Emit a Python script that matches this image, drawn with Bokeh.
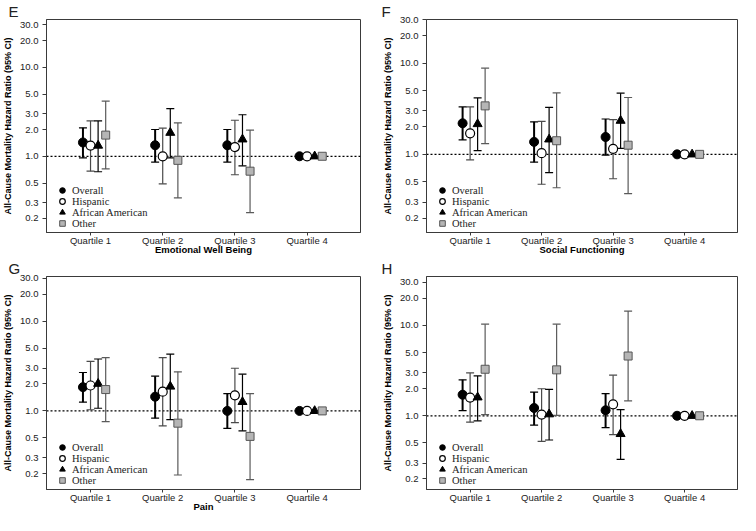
from bokeh.plotting import figure
from bokeh.models import (ColumnDataSource, Whisker, TeeHead, Span, Legend, LegendItem,
                          FixedTicker, PrintfTickFormatter, Range1d)
from bokeh.layouts import gridplot
from bokeh.embed import file_html
from bokeh.resources import INLINE

quartiles = ["Quartile 1", "Quartile 2", "Quartile 3", "Quartile 4"]
series = ["Overall", "Hispanic", "African American", "Other"]
y_ticks = [0.2, 0.3, 0.5, 1.0, 2.0, 3.0, 5.0, 10.0, 20.0, 30.0]

# Panel E: Emotional Well Being (rows: Overall, Hispanic, African American, Other)
emo_hr = [[1.43, 1.33, 1.33, 1.0], [1.32, 1.00, 1.27, 1.0], [1.32, 1.84, 1.55, 1.0], [1.73, 0.90, 0.68, 1.0]]
emo_lo = [[0.96, 0.86, 0.86, None], [0.68, 0.49, 0.62, None], [0.67, 0.96, 0.78, None], [0.72, 0.34, 0.233, None]]
emo_hi = [[2.09, 2.00, 2.00, None], [2.50, 2.07, 2.54, None], [2.50, 3.44, 2.93, None], [4.18, 2.37, 1.97, None]]

# Panel F: Social Functioning
soc_hr = [[2.19, 1.37, 1.55, 1.0], [1.70, 1.03, 1.15, 1.0], [2.15, 1.46, 2.34, 1.0], [3.40, 1.41, 1.26, 1.0]]
soc_lo = [[1.44, 0.82, 0.98, None], [0.87, 0.47, 0.54, None], [1.10, 0.63, 1.16, None], [1.31, 0.43, 0.37, None]]
soc_hi = [[3.31, 2.27, 2.44, None], [3.31, 2.30, 2.40, None], [4.16, 3.28, 4.68, None], [8.81, 4.72, 4.20, None]]

# Panel G: Pain
pain_hr = [[1.84, 1.44, 1.00, 1.0], [1.92, 1.64, 1.49, 1.0], [2.01, 1.87, 1.26, 1.0], [1.73, 0.73, 0.52, 1.0]]
pain_lo = [[1.25, 0.83, 0.64, None], [1.03, 0.68, 0.74, None], [1.07, 0.80, 0.60, None], [0.76, 0.193, 0.171, None]]
pain_hi = [[2.68, 2.44, 1.56, None], [3.57, 3.92, 2.99, None], [3.79, 4.30, 2.57, None], [3.92, 2.73, 1.56, None]]

# Panel H
h_hr = [[1.71, 1.22, 1.15, 1.0], [1.59, 1.03, 1.34, 1.0], [1.60, 1.04, 0.63, 1.0], [3.27, 3.22, 4.58, 1.0]]
h_lo = [[1.14, 0.79, 0.74, None], [0.85, 0.52, 0.62, None], [0.88, 0.54, 0.33, None], [1.03, 1.01, 1.46, None]]
h_hi = [[2.50, 1.83, 1.76, None], [2.98, 1.99, 2.81, None], [2.76, 1.96, 1.17, None], [10.3, 10.3, 14.4, None]]

FONT = "Liberation Sans"
AX = "#3a3a3a"
offsets = [-0.105, 0.0, 0.105, 0.21]
styles = [
    dict(marker="circle", size=9, fill_color="black", line_color="black", line_width=1),
    dict(marker="circle", size=9, fill_color="white", line_color="black", line_width=1.2),
    dict(marker="triangle", size=9, fill_color="black", line_color="black", line_width=1),
    dict(marker="square", size=8, fill_color="#b5b5b5", line_color="#555555", line_width=1),
]
bar_styles = [("black", 2.0), ("#4a4a4a", 1.2), ("black", 1.2), ("#5a5a5a", 1.2)]


def panel(letter, hr, lo, hi, xlabel, yr, w, h, borders, letter_off):
    bl, br, bt, bb = borders
    p = figure(width=w, height=h, y_axis_type="log",
               x_range=Range1d(0.39, 4.74), y_range=Range1d(*yr),
               output_backend="svg", toolbar_location=None,
               min_border_left=bl, min_border_right=br, min_border_top=bt, min_border_bottom=bb)
    p.xgrid.visible = False
    p.ygrid.visible = False
    p.outline_line_color = AX
    p.outline_line_width = 1

    p.title.text = letter
    p.title.align = "left"
    p.title.offset = letter_off
    p.title.text_font = FONT
    p.title.text_font_size = "15px"
    p.title.text_font_style = "normal"
    p.title.text_color = "#222222"
    p.title.standoff = 0

    p.add_layout(Span(location=1.0, dimension="width", line_color="black",
                      line_dash="2 2", line_width=1.2, level="underlay"))

    for k in range(4):
        xs = [i + 1 + offsets[k] for i in range(4)]
        ys = hr[k]
        wx = [xs[i] for i in range(4) if lo[k][i] is not None]
        wl = [lo[k][i] for i in range(4) if lo[k][i] is not None]
        wh = [hi[k][i] for i in range(4) if hi[k][i] is not None]
        wsrc = ColumnDataSource(dict(x=wx, lo=wl, hi=wh))
        col, lw = bar_styles[k]
        wk = Whisker(source=wsrc, base="x", lower="lo", upper="hi", dimension="height",
                     line_color=col, line_width=lw, level="underlay",
                     upper_head=TeeHead(size=8, line_color=col, line_width=1.2),
                     lower_head=TeeHead(size=8, line_color=col, line_width=1.2))
        p.add_layout(wk)
        src = ColumnDataSource(dict(x=xs, y=ys))
        r = p.scatter("x", "y", source=src, **styles[k])
        # one legend block per row so that rows can sit closer than the glyph box
        leg = Legend(items=[LegendItem(label=series[k], renderers=[r])],
                     location=(9, 2 + (3 - k) * 11), glyph_width=14, glyph_height=14,
                     label_height=10, spacing=0, padding=0, margin=0, label_standoff=3,
                     label_text_font="Liberation Serif", label_text_font_size="10.5px",
                     label_text_color="#222222",
                     background_fill_alpha=0, border_line_alpha=0)
        p.add_layout(leg, "center")

    p.yaxis.ticker = FixedTicker(ticks=y_ticks, minor_ticks=[])
    p.yaxis.formatter = PrintfTickFormatter(format="%.1f")
    p.xaxis.ticker = FixedTicker(ticks=[1, 2, 3, 4], minor_ticks=[])
    p.xaxis.major_label_overrides = {i + 1: q for i, q in enumerate(quartiles)}
    for ax in (p.xaxis, p.yaxis):
        ax.axis_line_color = AX
        ax.major_tick_line_color = AX
        ax.major_tick_in = 0
        ax.minor_tick_in = 0
        ax.minor_tick_out = 0
        ax.major_label_text_font = FONT
        ax.major_label_text_font_size = "9.5px"
        ax.major_label_text_color = "#222222"
        ax.axis_label_text_font = FONT
        ax.axis_label_text_font_style = "bold"
        ax.axis_label_text_color = "black"
    p.yaxis.major_tick_out = 4
    p.xaxis.major_tick_out = 3
    p.yaxis.major_label_standoff = 4
    p.xaxis.major_label_standoff = -1
    p.yaxis.axis_label = "All-Cause Mortality Hazard Ratio (95% CI)"
    p.yaxis.axis_label_text_font_size = "9px"
    p.yaxis.axis_label_standoff = 4
    if xlabel:
        p.xaxis.axis_label = xlabel
        p.xaxis.axis_label_text_font_size = "9.5px"
        p.xaxis.axis_label_standoff = -5
    return p


pE = panel("E", emo_hr, emo_lo, emo_hi, "Emotional Well Being", (0.139, 34.5),
           370, 257, (39, 10, 14, 20), -38)
pF = panel("F", soc_hr, soc_lo, soc_hi, "Social Functioning", (0.139, 30.1),
           370, 257, (56, 3, 14, 20), -45)
pG = panel("G", pain_hr, pain_lo, pain_hi, "Pain", (0.133, 31.5),
           370, 257, (39, 10, 14, 20), -38)
pH = panel("H", h_hr, h_lo, h_hi, None, (0.153, 34.7),
           370, 257, (56, 3, 14, 20), -45)

grid = gridplot([[pE, pF], [pG, pH]], toolbar_location=None)
open("out.html", "w").write(file_html(grid, INLINE))
